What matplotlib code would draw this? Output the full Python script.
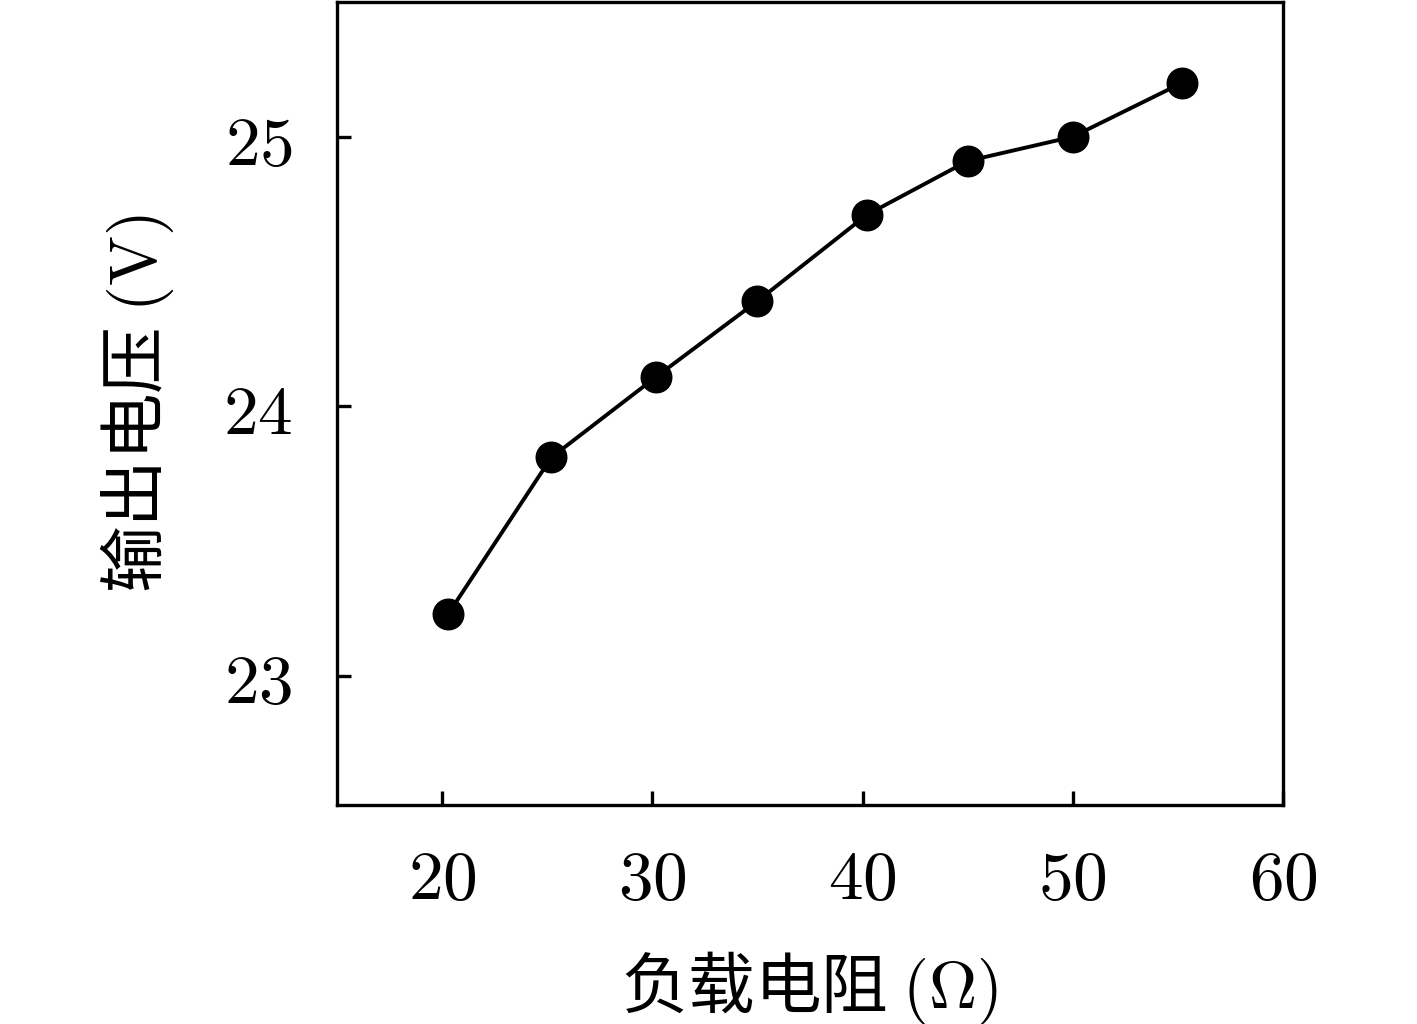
import matplotlib.pyplot as plt
from matplotlib import ticker

plt.rcParams['mathtext.fontset'] = 'cm'
plt.rcParams['font.family'] = ['Noto Sans CJK SC', 'DejaVu Sans']

# load resistance (ohm) and output voltage (V)
resistance = [20.3, 25.2, 30.2, 35.0, 40.2, 45.0, 50.0, 55.2]
voltage = [23.23, 23.81, 24.11, 24.39, 24.71, 24.91, 25.0, 25.2]

x_ticks = [20, 30, 40, 50, 60]
y_ticks = [23, 24, 25]

fig = plt.figure(figsize=(14.17, 10.24), dpi=100)
ax = fig.add_axes([0.2378, 0.2139, 0.6676, 0.7841])

ax.plot(resistance, voltage, color='black', linewidth=2.8,
	marker='o', markersize=22, clip_on=False)

ax.set_xlim(15, 60)
ax.set_ylim(22.52, 25.5)
ax.xaxis.set_major_locator(ticker.FixedLocator(x_ticks))
ax.yaxis.set_major_locator(ticker.FixedLocator(y_ticks))
ax.xaxis.set_major_formatter(ticker.FuncFormatter(lambda v, p: f'${v:g}$'))
ax.yaxis.set_major_formatter(ticker.FuncFormatter(lambda v, p: f'${v:g}$'))

for s in ax.spines.values():
	s.set_linewidth(2.4)
ax.tick_params(direction='in', length=10, width=2.4, labelsize=50)
ax.tick_params(axis='x', pad=28)
ax.tick_params(axis='y', pad=32)

ax.set_xlabel(r'负载电阻 $(\Omega)$', fontsize=48, labelpad=24)
ax.set_ylabel(r'输出电压 $(\mathrm{V})$', fontsize=48, labelpad=34)

fig.savefig('out.png', dpi=100)
